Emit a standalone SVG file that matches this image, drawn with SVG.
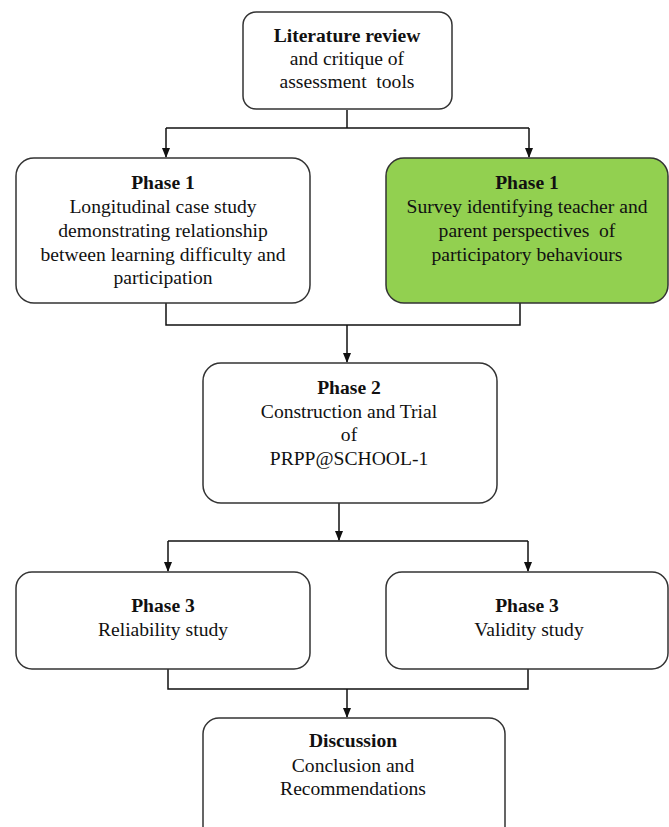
<svg xmlns="http://www.w3.org/2000/svg" width="669" height="827" viewBox="0 0 669 827" font-family="'Liberation Serif', 'Times New Roman', serif">
<defs>
<marker id="arr" markerWidth="10" markerHeight="10" refX="9" refY="5" orient="auto" markerUnits="userSpaceOnUse">
<path d="M0,1 L10,5 L0,9 Z" fill="#111"/>
</marker>
<style>
.box{fill:#fff;stroke:#333;stroke-width:1.5}
.green{fill:#92D050}
.t{font-size:19.6px;fill:#111;text-anchor:middle}
.b{font-weight:bold}
.c{fill:none;stroke:#111;stroke-width:1.5}
</style>
</defs>
<rect width="669" height="827" fill="#fff"/>
<g id="connectors">
<path class="c" d="M347,110 V128"/>
<path class="c" d="M166,128 H529"/>
<path class="c" d="M166,128 V157" marker-end="url(#arr)"/>
<path class="c" d="M529,128 V157" marker-end="url(#arr)"/>
<path class="c" d="M166,303 V325 H520 V303"/>
<path class="c" d="M347,325 V362" marker-end="url(#arr)"/>
<path class="c" d="M339,503 V540" marker-end="url(#arr)"/>
<path class="c" d="M168,541 H528"/>
<path class="c" d="M168,541 V571" marker-end="url(#arr)"/>
<path class="c" d="M528,541 V571" marker-end="url(#arr)"/>
<path class="c" d="M168,669 V689 H528 V669"/>
<path class="c" d="M347,689 V717" marker-end="url(#arr)"/>
</g>
<g id="lit">
<rect class="box" x="243" y="12" width="209" height="97" rx="13"/>
<text class="t b" x="347" y="42">Literature review</text>
<text class="t" x="347" y="65">and critique of</text>
<text class="t" x="347" y="88" xml:space="preserve">assessment  tools</text>
</g>
<g id="p1a">
<rect class="box" x="16" y="158" width="294" height="145" rx="18"/>
<text class="t b" x="163" y="189">Phase 1</text>
<text class="t" x="163" y="213">Longitudinal case study</text>
<text class="t" x="163" y="237">demonstrating relationship</text>
<text class="t" x="163" y="261">between learning difficulty and</text>
<text class="t" x="163" y="284">participation</text>
</g>
<g id="p1b">
<rect class="box green" x="386" y="158" width="282" height="145" rx="18"/>
<text class="t b" x="527" y="189">Phase 1</text>
<text class="t" x="527" y="213">Survey identifying teacher and</text>
<text class="t" x="527" y="237" xml:space="preserve">parent perspectives  of</text>
<text class="t" x="527" y="261">participatory behaviours</text>
</g>
<g id="p2">
<rect class="box" x="203" y="363" width="294" height="140" rx="18"/>
<text class="t b" x="349" y="394">Phase 2</text>
<text class="t" x="349" y="418">Construction and Trial</text>
<text class="t" x="349" y="441">of</text>
<text class="t" x="349" y="465">PRPP@SCHOOL-1</text>
</g>
<g id="p3a">
<rect class="box" x="16" y="572" width="294" height="97" rx="16"/>
<text class="t b" x="163" y="612">Phase 3</text>
<text class="t" x="163" y="636">Reliability study</text>
</g>
<g id="p3b">
<rect class="box" x="386" y="572" width="282" height="97" rx="16"/>
<text class="t b" x="527" y="612">Phase 3</text>
<text class="t" x="529" y="636">Validity study</text>
</g>
<g id="disc">
<rect class="box" x="203" y="718" width="302" height="125" rx="16"/>
<text class="t b" x="353" y="747">Discussion</text>
<text class="t" x="353" y="772">Conclusion and</text>
<text class="t" x="353" y="795">Recommendations</text>
</g>
</svg>
